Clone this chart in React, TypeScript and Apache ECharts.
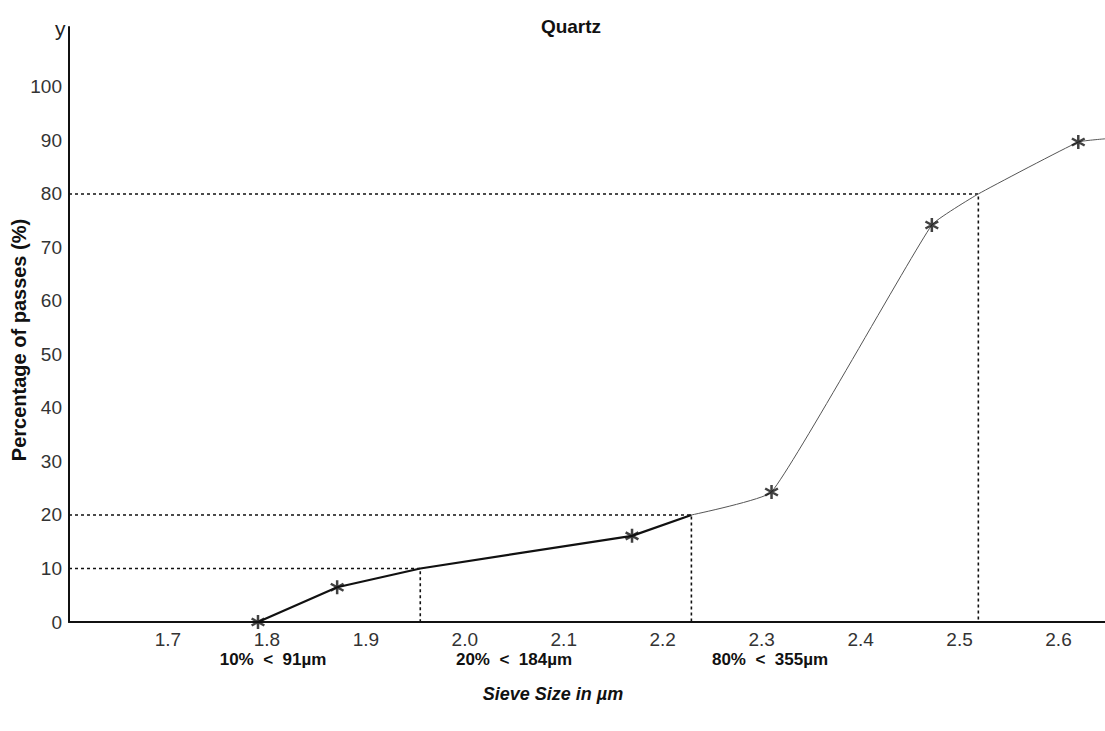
import React, { useEffect, useRef } from "react";
import * as echarts from "echarts";

// Curve (sieve size vs. % passing)
const thickX = [1.791, 1.871, 1.955, 2.169, 2.229];
const thickY = [0, 6.5, 10, 16.1, 20];
const thinX = [2.229, 2.31, 2.472, 2.519, 2.62, 2.647];
const thinY = [20, 24.3, 74.2, 80, 89.7, 90.3];
// Measured points (asterisks)
const starX = [1.791, 1.871, 2.169, 2.31, 2.472, 2.62];
const starY = [0, 6.5, 16.1, 24.3, 74.2, 89.7];
// Cut-off read-outs
const cutX = [1.955, 2.229, 2.519];
const cutY = [10, 20, 80];
const cutTexts = ["10%  <  91\u00b5m", "20%  <  184\u00b5m", "80%  <  355\u00b5m"];
const yTicks = [0, 10, 20, 30, 40, 50, 60, 70, 80, 90, 100];

const FONT = "'Liberation Sans Narrow', 'Liberation Sans', Arial, sans-serif";

const ASTERISK =
  "path://M-0.17,-1L0.17,-1L0.17,1L-0.17,1Z" +
  "M0.781,-0.647L0.951,-0.353L-0.781,0.647L-0.951,0.353Z" +
  "M0.951,0.353L0.781,0.647L-0.951,-0.353L-0.781,-0.647Z";

export default function App() {
  const ref = useRef<HTMLDivElement>(null);
  useEffect(() => {
    if (!ref.current) return;
    const chart = echarts.init(ref.current, null, { renderer: "svg" });
    const xMin = 1.6;
    const xMax = 2.647;
    const dashStyle = { color: "#111", width: 1.6, type: [3, 3] as any };
    const cutSeries = cutX.map((cx, i) => ({
      type: "line",
      data: [
        [xMin, cutY[i]],
        [cx, cutY[i]],
        [cx, 0],
      ],
      symbol: "none",
      lineStyle: dashStyle,
      z: 1,
    }));
    const option: any = {
      animation: false,
      backgroundColor: "#fff",
      textStyle: { fontFamily: FONT },
      title: {
        text: "Quartz",
        left: 566,
        top: 12,
        textAlign: "center",
        textStyle: { fontFamily: FONT, fontWeight: "bold", fontSize: 19, color: "#111" },
      },
      grid: { left: 69, right: 0, top: 27, bottom: 109 },
      xAxis: {
        type: "value",
        min: xMin,
        max: xMax,
        interval: 0.1,
        axisLine: { lineStyle: { color: "#111", width: 2 } },
        axisTick: { show: false },
        splitLine: { show: false },
        axisLabel: {
          fontSize: 19,
          color: "#333",
          margin: 8,
          fontFamily: FONT,
          showMaxLabel: false,
          showMinLabel: false,
          formatter: (v: number) => {
            const r = Math.round(v * 10) / 10;
            if (Math.abs(v - r) > 0.001 || r < 1.65 || r > 2.61) return "";
            return r.toFixed(1);
          },
        },
      },
      yAxis: {
        type: "value",
        min: 0,
        max: 111.2,
        interval: 10,
        axisLine: { show: true, lineStyle: { color: "#111", width: 2 } },
        axisTick: { show: false },
        splitLine: { show: false },
        axisLabel: {
          fontSize: 19,
          color: "#333",
          margin: 7,
          fontFamily: FONT,
          showMaxLabel: false,
          formatter: (v: number) => (yTicks.indexOf(v) >= 0 ? String(v) : ""),
        },
      },
      series: [
        ...cutSeries,
        {
          type: "line",
          data: thickX.map((x, i) => [x, thickY[i]]),
          symbol: "none",
          lineStyle: { color: "#111", width: 2.2 },
          z: 3,
        },
        {
          type: "line",
          data: thinX.map((x, i) => [x, thinY[i]]),
          symbol: "none",
          smooth: 0.12,
          lineStyle: { color: "#555", width: 1 },
          z: 3,
        },
        {
          type: "scatter",
          data: starX.map((x, i) => [x, starY[i]]),
          symbol: ASTERISK,
          symbolSize: 14,
          itemStyle: { color: "#111" },
          z: 5,
        },
      ],
      graphic: [
        {
          type: "text",
          left: 55,
          top: 18,
          style: { text: "y", font: `21px ${FONT}`, fill: "#222" },
        },
        {
          type: "text",
          x: 19,
          y: 340,
          rotation: Math.PI / 2,
          style: {
            text: "Percentage of passes (%)",
            font: `bold 20px ${FONT}`,
            fill: "#111",
            textAlign: "center",
            textVerticalAlign: "middle",
          },
        },
        ...cutTexts.map((t, i) => ({
          type: "text",
          x: [273, 514, 770][i],
          y: 659,
          style: {
            text: t,
            font: `bold 17px ${FONT}`,
            fill: "#111",
            textAlign: "center",
            textVerticalAlign: "middle",
          },
        })),
        {
          type: "text",
          x: 553,
          y: 694,
          style: {
            text: "Sieve Size in \u00b5m",
            font: `italic bold 18px ${FONT}`,
            fill: "#111",
            textAlign: "center",
            textVerticalAlign: "middle",
          },
        },
      ],
    };
    chart.setOption(option);
    return () => chart.dispose();
  }, []);
  return <div ref={ref} style={{ width: 1105, height: 731, position: "absolute", left: 0, top: 0 }} />;
}
